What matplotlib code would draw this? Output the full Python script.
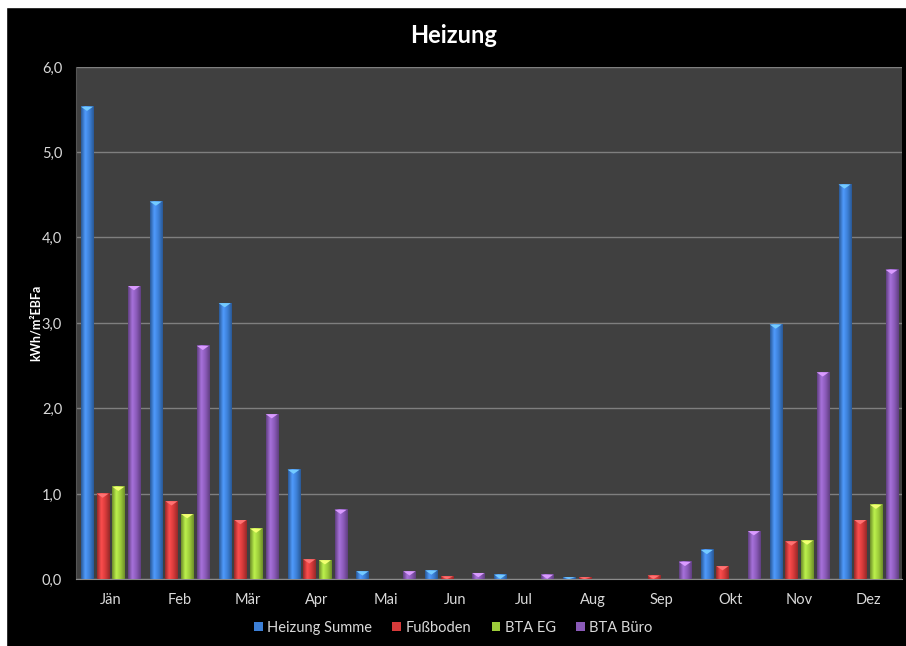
import numpy as np
import matplotlib
matplotlib.use("Agg")
import matplotlib.pyplot as plt
from matplotlib.patches import Polygon, Patch, Rectangle
from matplotlib.colors import LinearSegmentedColormap, to_rgb

plt.rcParams['font.family'] = ['Lato', 'DejaVu Sans']

months = ['Jän', 'Feb', 'Mär', 'Apr', 'Mai', 'Jun', 'Jul', 'Aug', 'Sep', 'Okt', 'Nov', 'Dez']
series = ['Heizung Summe', 'Fußboden', 'BTA EG', 'BTA Büro']
heizung_summe = [5.53, 4.42, 3.23, 1.28, 0.09, 0.10, 0.05, 0.02, 0.00, 0.34, 2.98, 4.62]
fussboden = [1.00, 0.91, 0.69, 0.23, 0.00, 0.03, 0.00, 0.02, 0.04, 0.15, 0.44, 0.69]
bta_eg = [1.08, 0.76, 0.59, 0.22, 0.00, 0.00, 0.00, 0.00, 0.00, 0.00, 0.45, 0.87]
bta_buero = [3.43, 2.73, 1.93, 0.81, 0.09, 0.07, 0.05, 0.00, 0.20, 0.56, 2.42, 3.62]
yticks = [0, 1, 2, 3, 4, 5, 6]
ytick_labels = ['0,0', '1,0', '2,0', '3,0', '4,0', '5,0', '6,0']

colors = ['#3c7fd6', '#d63a3a', '#9dcc3a', '#8a5ab8']
values = [heizung_summe, fussboden, bta_eg, bta_buero]

fig = plt.figure(figsize=(9.065, 6.465), dpi=100, facecolor='black')
# white strips at the top and left edge
fig.patches.append(Rectangle((0, 0), 6 / 906, 1, transform=fig.transFigure, color='white', zorder=10))
fig.patches.append(Rectangle((0, 1 - 7 / 646), 1, 7 / 646, transform=fig.transFigure, color='white', zorder=10))

ax = fig.add_axes([76 / 906, 1 - 579 / 646, 826 / 906, 512 / 646])
ax.set_facecolor('#404040')

step = 0.2275
width = 0.175
x = np.arange(len(months))


def shaded_bar(ax, xc, h, color):
    if h <= 0:
        return
    r, g, b = to_rgb(color)
    dark = (r * 0.7, g * 0.7, b * 0.7)
    light = tuple(min(1, c * 1.12 + 0.05) for c in (r, g, b))
    cmap = LinearSegmentedColormap.from_list('bar', [dark, light, (r, g, b), dark])
    grad = np.linspace(0, 1, 64).reshape(1, -1)
    x0, x1 = xc - width / 2, xc + width / 2
    ax.imshow(grad, cmap=cmap, extent=(x0, x1, 0, h), aspect='auto', zorder=3, interpolation='bilinear')
    # lighter bevel at the bar top
    cap = min(h, 0.05)
    top = Polygon([(x0, h), (x1, h), (xc, h - cap)], closed=True,
                  facecolor=tuple(min(1, c * 1.3 + 0.15) for c in (r, g, b)), edgecolor='none', zorder=4)
    ax.add_patch(top)


for k, (vals, col) in enumerate(zip(values, colors)):
    for i, v in enumerate(vals):
        shaded_bar(ax, x[i] + (k - 1.5) * step, v, col)

ax.set_xlim(-0.5, 11.5)
ax.set_ylim(0, 6)

ax.set_yticks(yticks)
ax.set_yticklabels(ytick_labels)
ax.set_xticks(x)
ax.set_xticklabels(months)
ax.tick_params(axis='both', length=0, colors='#d9d9d9', labelsize=10.5)
ax.tick_params(axis='x', pad=10)
ax.tick_params(axis='y', pad=10)
ax.grid(axis='y', color='#7f7f7f', linewidth=1)
ax.set_axisbelow(True)
for side in ['top', 'right']:
    ax.spines[side].set_visible(False)
ax.spines['left'].set_color('#555555')
ax.spines['bottom'].set_color('#8c8c8c')

ax.set_ylabel('kWh/m²EBFa', color='white', fontsize=9, fontweight='bold', labelpad=0)
fig.text(0.5, 1 - 35 / 646, 'Heizung', ha='center', va='center', color='white',
         fontsize=17, fontweight='bold')

handles = [Patch(facecolor=c, edgecolor='none') for c in colors]
fig.legend(handles, series, loc='center', bbox_to_anchor=(0.5, 1 - 628 / 646), ncol=4,
           frameon=False, fontsize=10.5, labelcolor='#d9d9d9', handlelength=0.6, handleheight=0.6,
           handletextpad=0.3, columnspacing=1.4)

fig.savefig('out.png', dpi=100, facecolor='black')
